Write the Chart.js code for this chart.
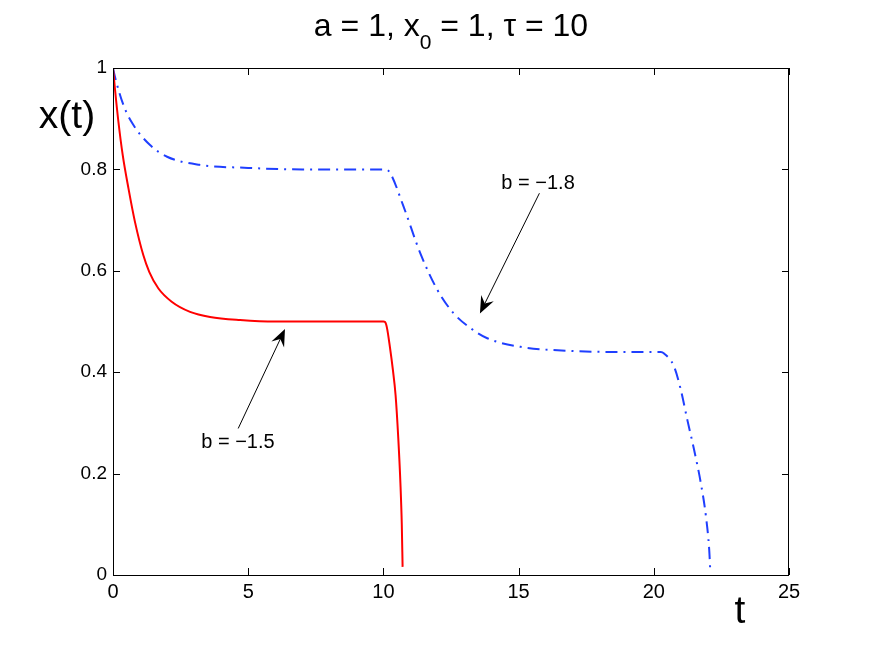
<!DOCTYPE html>
<html>
<head>
<meta charset="utf-8">
<script src="https://cdn.jsdelivr.net/npm/chart.js@4"></script>
<style>
    html, body { margin: 0; padding: 0; background: #fff; }
</style>
</head>
<body>
<canvas id="plot" width="872" height="648"></canvas>
<script>
// b = -1.5 (red, solid)
const redT = [0, 0.07, 0.2, 0.36, 0.57, 0.81, 1.12, 1.34, 1.68, 2.17, 2.85, 3.59, 4.7, 6, 8, 10.0, 10.06, 10.13, 10.24, 10.35, 10.45, 10.55, 10.63, 10.68, 10.71];
const redX = [1, 0.96, 0.894, 0.828, 0.763, 0.697, 0.631, 0.598, 0.565, 0.539, 0.519, 0.509, 0.503, 0.5, 0.5, 0.5, 0.499, 0.488, 0.45, 0.405, 0.355, 0.27, 0.18, 0.1, 0.016];

// b = -1.8 (blue, dash-dot)
const blueT = [0, 0.07, 0.4, 0.75, 1.37, 2, 3.2, 5, 7, 10.1, 10.26, 10.75, 11.37, 12, 12.6, 13.22, 13.84, 15.07, 16.9, 18.5, 20.26, 20.38, 20.75, 21, 21.24, 21.49, 21.74, 21.93, 22.05, 22.09];
const blueX = [1, 0.983, 0.925, 0.888, 0.848, 0.825, 0.809, 0.803, 0.8, 0.8, 0.792, 0.726, 0.634, 0.562, 0.516, 0.487, 0.467, 0.45, 0.442, 0.44, 0.44, 0.437, 0.411, 0.365, 0.306, 0.247, 0.181, 0.115, 0.049, 0.006];

const xTicks = [0, 5, 10, 15, 20, 25];
const yTicks = [0, 0.2, 0.4, 0.6, 0.8, 1];

// annotations: label position and arrow tail/head, all in data units
const noteLabels = ['b = \u22121.5', 'b = \u22121.8'];
const noteT = [4.62, 15.72];
const noteX = [0.262, 0.773];
const arrowTailT = [4.63, 15.77];
const arrowTailX = [0.289, 0.753];
const arrowHeadT = [6.36, 13.57];
const arrowHeadX = [0.485, 0.516];

const FONT = "'Liberation Sans', Arial, sans-serif";

function toPoints(ts, xs) {
    return ts.map((t, i) => ({ x: t, y: xs[i] }));
}

function drawArrow(ctx, x0, y0, x1, y1) {
    const ang = Math.atan2(y1 - y0, x1 - x0);
    const len = 17, half = 7, notch = 11;
    const c = Math.cos(ang), s = Math.sin(ang);
    ctx.strokeStyle = '#000';
    ctx.lineWidth = 1;
    ctx.beginPath();
    ctx.moveTo(x0, y0);
    ctx.lineTo(x1 - c * notch, y1 - s * notch);
    ctx.stroke();
    const bx = x1 - c * len, by = y1 - s * len;
    ctx.fillStyle = '#000';
    ctx.beginPath();
    ctx.moveTo(x1, y1);
    ctx.lineTo(bx - s * half, by + c * half);
    ctx.lineTo(x1 - c * notch, y1 - s * notch);
    ctx.lineTo(bx + s * half, by - c * half);
    ctx.closePath();
    ctx.fill();
}

const decorations = {
    id: 'decorations',
    afterDatasetsDraw(chart) {
        const ctx = chart.ctx;
        const xs = chart.scales.x, ys = chart.scales.y;
        ctx.save();
        // arrows and their labels
        noteLabels.forEach((label, i) => {
            drawArrow(ctx,
                xs.getPixelForValue(arrowTailT[i]), ys.getPixelForValue(arrowTailX[i]),
                xs.getPixelForValue(arrowHeadT[i]), ys.getPixelForValue(arrowHeadX[i]));
            ctx.fillStyle = '#000';
            ctx.font = '20px ' + FONT;
            ctx.textAlign = 'center';
            ctx.textBaseline = 'middle';
            ctx.fillText(label, xs.getPixelForValue(noteT[i]), ys.getPixelForValue(noteX[i]));
        });
        ctx.restore();
    },
    afterDraw(chart) {
        const ctx = chart.ctx;
        const a = chart.chartArea;
        const xs = chart.scales.x, ys = chart.scales.y;
        ctx.save();
        // box
        ctx.strokeStyle = '#000';
        ctx.lineWidth = 1;
        ctx.strokeRect(a.left + 0.5, a.top + 0.5, a.right - a.left - 1, a.bottom - a.top);
        // inward ticks on all sides
        const tl = 7;
        ctx.beginPath();
        xs.ticks.forEach(tk => {
            const px = Math.round(xs.getPixelForValue(tk.value)) + 0.5;
            ctx.moveTo(px, a.bottom); ctx.lineTo(px, a.bottom - tl);
            ctx.moveTo(px, a.top); ctx.lineTo(px, a.top + tl);
        });
        ys.ticks.forEach(tk => {
            const py = Math.round(ys.getPixelForValue(tk.value)) + 0.5;
            ctx.moveTo(a.left, py); ctx.lineTo(a.left + tl, py);
            ctx.moveTo(a.right, py); ctx.lineTo(a.right - tl, py);
        });
        ctx.stroke();

        // title with subscript
        ctx.fillStyle = '#000';
        ctx.textBaseline = 'alphabetic';
        ctx.textAlign = 'left';
        const big = '32px ' + FONT, small = '21px ' + FONT;
        const p1 = 'a = 1, x', p2 = '0', p3 = ' = 1, \u03c4 = 10';
        ctx.font = big;
        const w1 = ctx.measureText(p1).width, w3 = ctx.measureText(p3).width;
        ctx.font = small;
        const w2 = ctx.measureText(p2).width;
        let x0 = (a.left + a.right) / 2 - (w1 + w2 + w3) / 2;
        const base = 36;
        ctx.font = big; ctx.fillText(p1, x0, base); x0 += w1;
        ctx.font = small; ctx.fillText(p2, x0, base + 13); x0 += w2;
        ctx.font = big; ctx.fillText(p3, x0, base);

        // axis labels
        ctx.font = '39px ' + FONT;
        ctx.textAlign = 'center';
        ctx.textBaseline = 'middle';
        ctx.fillText('x(t)', 67, 117);
        ctx.fillText('t', 740, 612);
        ctx.restore();
    }
};

new Chart(document.getElementById('plot').getContext('2d'), {
    type: 'line',
    data: {
        datasets: [
            {
                label: 'b = -1.5',
                data: toPoints(redT, redX),
                borderColor: '#ff0000',
                borderWidth: 2,
                pointRadius: 0,
                fill: false,
                cubicInterpolationMode: 'monotone'
            },
            {
                label: 'b = -1.8',
                data: toPoints(blueT, blueX),
                borderColor: '#1f3fff',
                borderWidth: 2,
                borderDash: [12, 6, 2, 6],
                pointRadius: 0,
                fill: false,
                cubicInterpolationMode: 'monotone'
            }
        ]
    },
    options: {
        responsive: false,
        animation: false,
        layout: { padding: { left: 0, top: 68, right: 83, bottom: 0 } },
        plugins: {
            legend: { display: false },
            title: { display: false },
            tooltip: { enabled: false }
        },
        scales: {
            x: {
                type: 'linear',
                min: 0,
                max: 25,
                afterBuildTicks: s => { s.ticks = xTicks.map(v => ({ value: v })); },
                afterFit: s => { s.height = 73; },
                grid: { display: false, drawTicks: false, tickLength: 0 },
                border: { display: false },
                ticks: { color: '#000', font: { family: FONT, size: 20 }, padding: 5, maxRotation: 0,
                         callback: v => String(v) }
            },
            y: {
                type: 'linear',
                min: 0,
                max: 1,
                afterBuildTicks: s => { s.ticks = yTicks.map(v => ({ value: v })); },
                afterFit: s => { s.width = 113; },
                grid: { display: false, drawTicks: false, tickLength: 0 },
                border: { display: false },
                ticks: { color: '#000', font: { family: FONT, size: 19 }, padding: 6,
                         callback: v => String(Math.round(v * 10) / 10) }
            }
        }
    },
    plugins: [decorations]
});
</script>
</body>
</html>
